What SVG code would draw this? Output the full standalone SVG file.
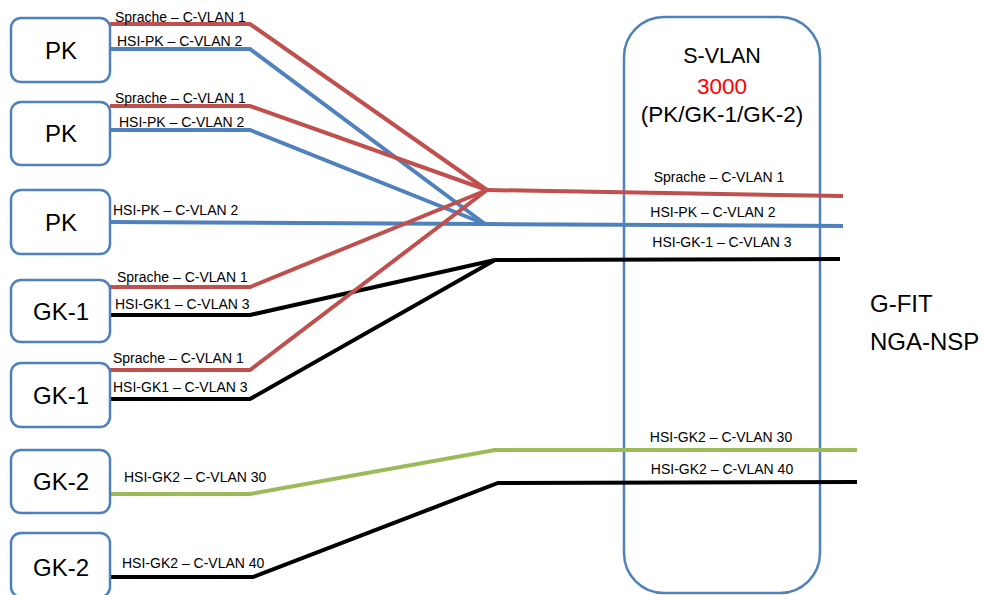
<svg xmlns="http://www.w3.org/2000/svg" width="984" height="595" viewBox="0 0 984 595">
<style>
.node rect{fill:#fff;stroke:#4f81bd;stroke-width:2.5}
.nl{font-family:"Liberation Sans",Arial,sans-serif;font-size:24px;fill:#000;text-anchor:middle}
.lbl{font-family:"Liberation Sans",Arial,sans-serif;font-size:14px;fill:#000}
.rl{text-anchor:middle}
.ln{fill:none;stroke-width:4;stroke-linejoin:miter}
.red{stroke:#c0504d}
.blue{stroke:#4f81bd}
.green{stroke:#9bbb59}
.black{stroke:#000}
</style>
<rect width="984" height="595" fill="#fff"/>
<g id="svlan">
<rect x="624" y="17" width="196" height="576" rx="40" fill="#fff" stroke="#4f81bd" stroke-width="2.5"/>
<text x="722" y="63" class="nl" style="font-size:21.5px">S-VLAN</text>
<text x="722" y="94" class="nl" style="font-size:22.5px;fill:#ff0000">3000</text>
<text x="722" y="122" class="nl" style="font-size:22.5px">(PK/GK-1/GK-2)</text>
</g>
<g id="connectors">
<polyline class="ln red" points="110,24 250,24 487,190"/>
<polyline class="ln blue" points="110,49 250,49 485,224"/>
<polyline class="ln red" points="110,106 250,106 487,190"/>
<polyline class="ln blue" points="110,130 250,130 485,224"/>
<polyline class="ln blue" points="110,222 485,224"/>
<polyline class="ln red" points="110,287 250,287 487,190"/>
<polyline class="ln black" points="110,315 250,315 495,260"/>
<polyline class="ln red" points="110,370 250,370 487,190"/>
<polyline class="ln black" points="110,399 250,399 495,260"/>
<polyline class="ln green" points="110,494 250,494 495,450 857,450"/>
<polyline class="ln black" points="110,577 253,577 498,483 857,482"/>
<line class="ln red" x1="487" y1="190" x2="843" y2="196"/>
<line class="ln blue" x1="485" y1="224" x2="843" y2="226"/>
<line class="ln black" x1="495" y1="260" x2="840" y2="259"/>
</g>
<g id="left-labels" class="lbl">
<text x="115" y="22">Sprache – C-VLAN 1</text>
<text x="117" y="46">HSI-PK – C-VLAN 2</text>
<text x="115" y="103">Sprache – C-VLAN 1</text>
<text x="119" y="127">HSI-PK – C-VLAN 2</text>
<text x="113" y="215">HSI-PK – C-VLAN 2</text>
<text x="117" y="282">Sprache – C-VLAN 1</text>
<text x="115" y="309">HSI-GK1 – C-VLAN 3</text>
<text x="113" y="363">Sprache – C-VLAN 1</text>
<text x="113" y="392">HSI-GK1 – C-VLAN 3</text>
<text x="124" y="482">HSI-GK2 – C-VLAN 30</text>
<text x="122" y="568">HSI-GK2 – C-VLAN 40</text>
</g>
<g id="right-labels" class="lbl rl">
<text x="719" y="182">Sprache – C-VLAN 1</text>
<text x="713" y="217">HSI-PK – C-VLAN 2</text>
<text x="722" y="247">HSI-GK-1 – C-VLAN 3</text>
<text x="721" y="442">HSI-GK2 – C-VLAN 30</text>
<text x="722" y="474">HSI-GK2 – C-VLAN 40</text>
</g>
<g id="pk1" class="node"><rect x="11" y="18" width="99" height="64" rx="10"/><text x="61" y="59" class="nl">PK</text></g>
<g id="pk2" class="node"><rect x="11" y="102" width="99" height="63" rx="10"/><text x="61" y="142" class="nl">PK</text></g>
<g id="pk3" class="node"><rect x="11" y="190" width="99" height="64" rx="10"/><text x="61" y="231" class="nl">PK</text></g>
<g id="gk1a" class="node"><rect x="11" y="280" width="99" height="62" rx="10"/><text x="61" y="320" class="nl">GK-1</text></g>
<g id="gk1b" class="node"><rect x="11" y="363" width="99" height="64" rx="10"/><text x="61" y="404" class="nl">GK-1</text></g>
<g id="gk2a" class="node"><rect x="11" y="450" width="99" height="63" rx="10"/><text x="61" y="490" class="nl">GK-2</text></g>
<g id="gk2b" class="node"><rect x="11" y="533" width="99" height="64" rx="10"/><text x="61" y="576" class="nl">GK-2</text></g>
<g id="gfit">
<text x="870" y="312" class="lbl" style="font-size:24px">G-FIT</text>
<text x="870" y="350" class="lbl" style="font-size:24px">NGA-NSP</text>
</g>
</svg>
